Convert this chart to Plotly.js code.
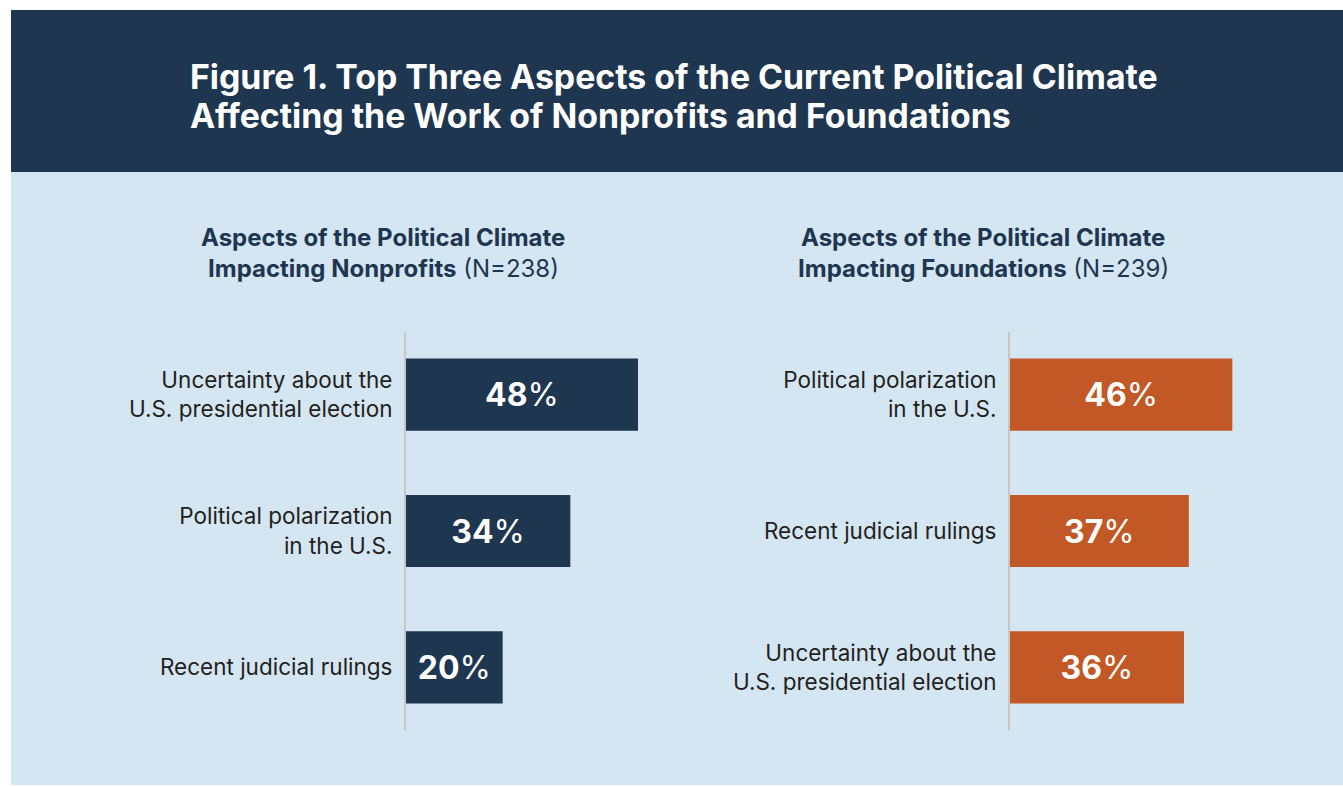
<!DOCTYPE html>
<html>
<head>
<meta charset="utf-8">
<script src="https://cdn.plot.ly/plotly-3.0.1.min.js"></script>
<style>
html, body { margin: 0; padding: 0; background: #ffffff; }
#chart { width: 1343px; height: 787px; }
</style>
</head>
<body>
<div id="chart"></div>
<script>
// ---- Data ----
const nonprofitCategories = [
  'Uncertainty about the<br>U.S. presidential election',
  'Political polarization<br>in the U.S.',
  'Recent judicial rulings'
];
const nonprofitValues = [48, 34, 20];

const foundationCategories = [
  'Political polarization<br>in the U.S.',
  'Recent judicial rulings',
  'Uncertainty about the<br>U.S. presidential election'
];
const foundationValues = [46, 37, 36];

const mainTitleLines = [
  'Figure 1. Top Three Aspects of the Current Political Climate',
  'Affecting the Work of Nonprofits and Foundations'
];
const nonprofitSubtitleLines = ['<b>Aspects of the Political Climate</b>', '<b>Impacting Nonprofits</b> (N=238)'];
const foundationSubtitleLines = ['<b>Aspects of the Political Climate</b>', '<b>Impacting Foundations</b> (N=239)'];

// ---- Styling ----
const W = 1343, H = 787;
const NAVY = '#1f3651';
const ORANGE = '#c25826';
const PANEL = '#d4e6f2';
const AXISGRAY = '#c9c5bf';
const LABEL = '#231f20';
const FONT = 'Inter, Liberation Sans, Arial, sans-serif';

const px = v => v / W;
const py = v => 1 - v / H;

const barCommon = {
  type: 'bar',
  orientation: 'h',
  width: 0.53,
  texttemplate: '<b>%{x}</b>%',
  textposition: 'inside',
  insidetextanchor: 'middle',
  textfont: { family: FONT, size: 32, color: '#ffffff' },
  hoverinfo: 'skip',
  cliponaxis: false
};

const traces = [
  Object.assign({}, barCommon, {
    x: nonprofitValues, y: nonprofitCategories,
    xaxis: 'x', yaxis: 'y',
    marker: { color: NAVY }
  }),
  Object.assign({}, barCommon, {
    x: foundationValues, y: foundationCategories,
    xaxis: 'x2', yaxis: 'y2',
    marker: { color: ORANGE }
  })
];

const yDomain = [py(730), py(332)];
const xRange = [0, 60];

const yCommon = {
  domain: yDomain,
  type: 'category',
  range: [2.46, -0.46],
  showline: true, linecolor: AXISGRAY, linewidth: 2,
  showgrid: false, zeroline: false,
  ticks: 'outside', ticklen: 7, tickcolor: 'rgba(0,0,0,0)',
  tickfont: { family: FONT, size: 22.5, color: LABEL },
  fixedrange: true
};
const xCommon = {
  range: xRange, visible: false, showgrid: false, zeroline: false, fixedrange: true
};

function textAnn(text, x, y, size, color, anchor) {
  return {
    text: text, xref: 'paper', yref: 'paper', x: px(x), y: py(y),
    xanchor: anchor, yanchor: 'middle', align: anchor === 'left' ? 'left' : 'center',
    showarrow: false, font: { family: FONT, size: size, color: color }
  };
}

const layout = {
  width: W, height: H,
  margin: { l: 0, r: 0, t: 0, b: 0 },
  paper_bgcolor: '#ffffff',
  plot_bgcolor: 'rgba(0,0,0,0)',
  showlegend: false,
  font: { family: FONT },
  xaxis: Object.assign({}, xCommon, { domain: [px(406), px(696)], anchor: 'y' }),
  yaxis: Object.assign({}, yCommon, { anchor: 'x', categoryarray: nonprofitCategories, categoryorder: 'array' }),
  xaxis2: Object.assign({}, xCommon, { domain: [px(1010), px(1300)], anchor: 'y2' }),
  yaxis2: Object.assign({}, yCommon, { anchor: 'x2', categoryarray: foundationCategories, categoryorder: 'array' }),
  shapes: [
    { type: 'rect', xref: 'paper', yref: 'paper', layer: 'below',
      x0: px(11), x1: 1, y0: py(172), y1: py(10),
      fillcolor: NAVY, line: { width: 0 } },
    { type: 'rect', xref: 'paper', yref: 'paper', layer: 'below',
      x0: px(11), x1: 1, y0: py(785), y1: py(172),
      fillcolor: PANEL, line: { width: 0 } }
  ],
  annotations: [
    textAnn('<b>' + mainTitleLines[0] + '</b>', 188, 76, 33.8, '#ffffff', 'left'),
    textAnn('<b>' + mainTitleLines[1] + '</b>', 188, 115, 33.8, '#ffffff', 'left'),
    textAnn(nonprofitSubtitleLines[0], 383, 237, 24, NAVY, 'center'),
    textAnn(nonprofitSubtitleLines[1], 383, 269, 24, NAVY, 'center'),
    textAnn(foundationSubtitleLines[0], 983, 237, 24, NAVY, 'center'),
    textAnn(foundationSubtitleLines[1], 983, 269, 24, NAVY, 'center')
  ]
};

Plotly.newPlot('chart', traces, layout, { displayModeBar: false, staticPlot: true });
</script>
</body>
</html>
